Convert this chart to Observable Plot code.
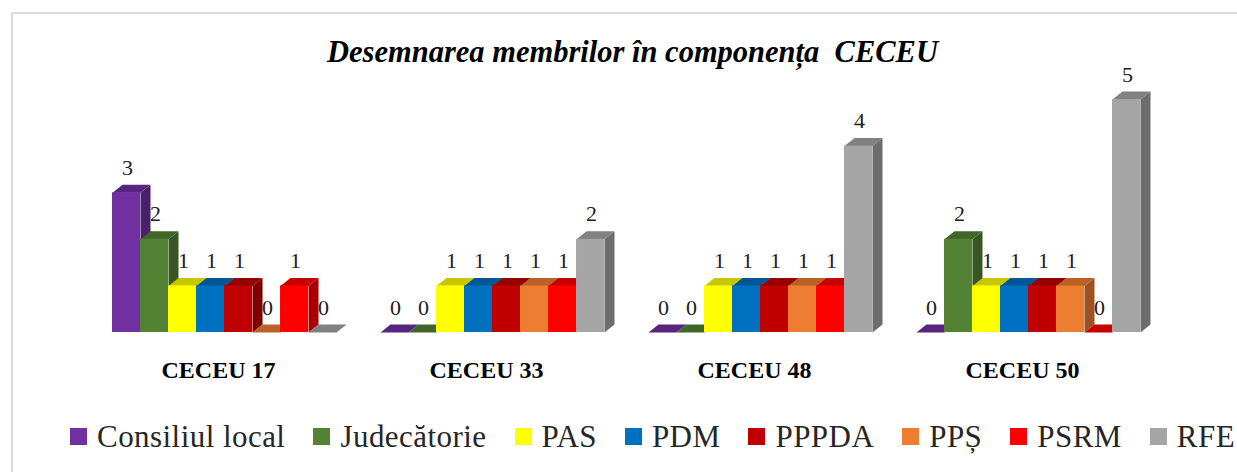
<!DOCTYPE html>
<html>
<head>
<meta charset="utf-8">
<script src="https://cdn.jsdelivr.net/npm/d3@7"></script>
<script src="https://cdn.jsdelivr.net/npm/@observablehq/plot@0.6"></script>
<style>
  html, body { margin: 0; padding: 0; background: #ffffff; }
  body { width: 1237px; height: 472px; overflow: hidden; position: relative; font-family: "Liberation Serif", "DejaVu Serif", serif; }
  #frame { position: absolute; left: 11px; top: 12px; width: 1400px; height: 600px; border: 2px solid #d9d9d9; box-sizing: border-box; }
  #title { position: absolute; left: 14px; top: 37px; width: 1237px; text-align: center; font-size: 30.5px; line-height: 30px; font-weight: bold; font-style: italic; color: #000; white-space: pre; }
  #chart { position: absolute; left: 0; top: 60px; }
  #legend { position: absolute; left: 70px; top: 418px; height: 36px; display: flex; align-items: center; gap: 28px; font-family: "Liberation Serif", serif; font-size: 31px; letter-spacing: 0.45px; line-height: 1; color: #262626; white-space: nowrap; }
  .item { display: flex; align-items: center; }
  .sw { width: 17px; height: 17px; margin-right: 10px; flex: none; }
</style>
</head>
<body>
<div id="frame"></div>
<div id="title">Desemnarea membrilor în componența  CECEU</div>
<div id="chart"></div>
<div id="legend"></div>
<script>
// ---- data ----
const groups = ["CECEU 17", "CECEU 33", "CECEU 48", "CECEU 50"];
const series = ["Consiliul local", "Judecătorie", "PAS", "PDM", "PPPDA", "PPȘ", "PSRM", "RFE"];
const colors = ["#7030A0", "#548235", "#FFFF00", "#0070C0", "#C00000", "#ED7D31", "#FF0000", "#A5A5A5"];
const consiliulLocal = [3, 0, 0, 0];
const judecatorie    = [2, 0, 0, 2];
const pas            = [1, 1, 1, 1];
const pdm            = [1, 1, 1, 1];
const pppda          = [1, 1, 1, 1];
const pps            = [0, 1, 1, 1];
const psrm           = [1, 1, 1, 0];
const rfe            = [0, 2, 4, 5];
const valuesBySeries = [consiliulLocal, judecatorie, pas, pdm, pppda, pps, psrm, rfe];
const yDomain = [0, 5];

// table built from arrays
const data = [];
series.forEach((s, si) => groups.forEach((g, gi) => data.push({group: g, series: s, value: valuesBySeries[si][gi]})));
// two points per bar (baseline and top) for the 3-D faces
const facePts = [];
data.forEach(d => { facePts.push({...d, yy: 0}); facePts.push({...d, yy: d.value}); });

const DEPTH_X = 10, DEPTH_Y = 8;

function faceCurve(kind, hw) {
  return function(context) {
    let pts = [];
    return {
      areaStart() {}, areaEnd() {},
      lineStart() { pts = []; },
      point(x, y) { pts.push([+x, +y]); },
      lineEnd() {
        if (!pts.length) return;
        const x = pts[0][0];
        const y0 = Math.max(...pts.map(p => p[1]));
        const yv = Math.min(...pts.map(p => p[1]));
        const L = x - hw, R = x + hw;
        if (kind === "top") {
          context.moveTo(L, yv); context.lineTo(R, yv);
          context.lineTo(R + DEPTH_X, yv - DEPTH_Y); context.lineTo(L + DEPTH_X, yv - DEPTH_Y);
          context.closePath();
        } else {
          if (y0 - yv < 0.5) return;
          context.moveTo(R, y0); context.lineTo(R, yv);
          context.lineTo(R + DEPTH_X, yv - DEPTH_Y); context.lineTo(R + DEPTH_X, y0 - DEPTH_Y);
          context.closePath();
        }
      }
    };
  };
}

const FONT = '"Liberation Serif", "DejaVu Serif", serif';

function makePlot(bw) {
  const hw = bw / 2;
  const sides = series.map((s, i) => Plot.line(facePts.filter(d => d.series === s), {
    fx: "group", x: "series", y: "yy", curve: faceCurve("side", hw),
    fill: d3.color(colors[i]).darker(1.15).formatHex(), stroke: "none", strokeWidth: 0
  }));
  const tops = series.map((s, i) => Plot.line(facePts.filter(d => d.series === s), {
    fx: "group", x: "series", y: "yy", curve: faceCurve("top", hw),
    fill: d3.color(colors[i]).darker(0.7).formatHex(), stroke: "none", strokeWidth: 0
  }));
  return Plot.plot({
    width: 1237, height: 340,
    marginTop: 39, marginBottom: 68, marginLeft: 112, marginRight: 97,
    fx: {domain: groups, paddingInner: 0.164, paddingOuter: 0, round: false, axis: null, label: null},
    x: {domain: series, padding: 0, round: false, axis: null, label: null},
    y: {domain: yDomain, axis: null, label: null},
    color: {domain: series, range: colors},
    style: {overflow: "visible", fontFamily: FONT, background: "transparent"},
    marks: [
      ...sides,
      ...tops,
      Plot.barY(data, {fx: "group", x: "series", y: "value", fill: "series"}),
      Plot.text(data, {fx: "group", x: "series", y: "value", text: d => String(d.value),
        dy: -25, dx: 1, lineAnchor: "middle", fontSize: 22, fill: "#222", fontFamily: FONT}),
      Plot.text(groups, {fx: d => d, text: d => d, frameAnchor: "bottom", dy: 38, dx: -6,
        lineAnchor: "middle", fontSize: 24, fontWeight: "bold", fill: "#000", fontFamily: FONT})
    ]
  });
}

let p = makePlot(28);
let bw = 28;
try { const sx = p.scale("x"); if (sx && sx.bandwidth) bw = sx.bandwidth; } catch (e) {}
p = makePlot(bw);
document.getElementById("chart").appendChild(p);

// legend
const legend = document.getElementById("legend");
series.forEach((s, i) => {
  const it = document.createElement("div"); it.className = "item";
  const sw = document.createElement("span"); sw.className = "sw"; sw.style.background = colors[i];
  const t = document.createElement("span"); t.textContent = s;
  it.appendChild(sw); it.appendChild(t); legend.appendChild(it);
});
</script>
</body>
</html>
